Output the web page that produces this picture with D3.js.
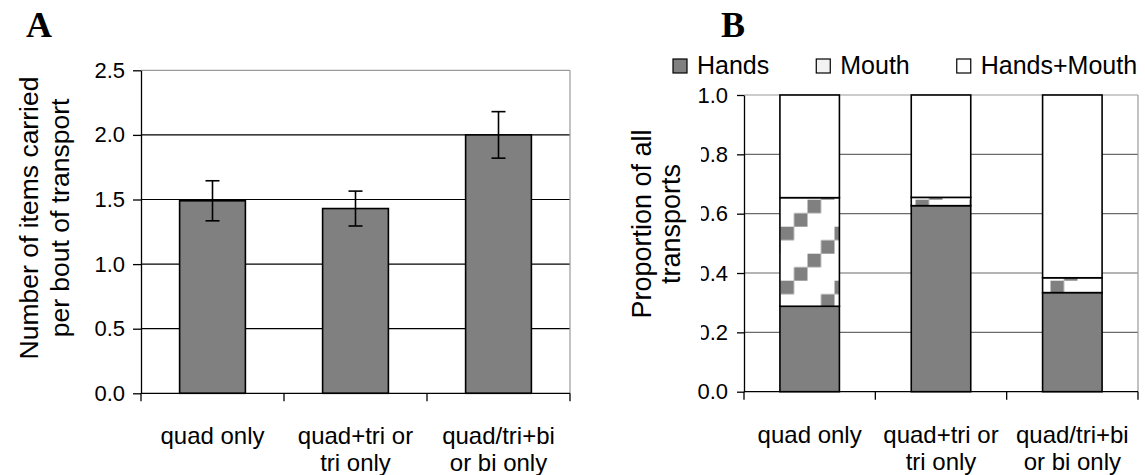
<!DOCTYPE html>
<html>
<head>
<meta charset="utf-8">
<script src="https://cdn.jsdelivr.net/npm/d3@7/dist/d3.min.js"></script>
<style>
  html, body { margin: 0; padding: 0; background: #fff; }
  svg { display: block; font-family: "Liberation Sans", Arial, sans-serif; }
</style>
</head>
<body>
<svg id="chart" width="1145" height="475"></svg>
<script>
// Locomotor categories shared by both panels
const categories = ["quad only", "quad+tri or tri only", "quad/tri+bi or bi only"];
const categoryLines = [["quad only"], ["quad+tri or", "tri only"], ["quad/tri+bi", "or bi only"]];

// Panel A: items carried per transport bout (mean ± error)
const itemsPerBout = [1.49, 1.43, 2.0];
const itemsError = [0.155, 0.135, 0.18];
const itemsTicks = [0, 0.5, 1.0, 1.5, 2.0, 2.5];

// Panel B: proportion of transports by carrying mode
const transportSeries = ["Hands", "Mouth", "Hands+Mouth"];
const handsShare = [0.288, 0.627, 0.334];
const mouthShare = [0.366, 0.028, 0.050];
const handsMouthShare = [0.346, 0.345, 0.616];
const proportionTicks = [0, 0.2, 0.4, 0.6, 0.8, 1.0];

const svg = d3.select("#chart");
const fmt = d3.format(".1f");
const BAR_GREY = "#808080";

// Checkerboard-style fill used for the "Mouth" segment
const CELL = 13.5;
const defs = svg.append("defs");
const pat = defs.append("pattern")
  .attr("id", "checker")
  .attr("patternUnits", "userSpaceOnUse")
  .attr("x", 780.5).attr("y", 226.7)
  .attr("width", CELL * 4).attr("height", CELL * 4);
pat.append("rect").attr("width", CELL * 4).attr("height", CELL * 4).attr("fill", "#fff");
[[0, 0], [3, 1], [2, 2], [1, 3]].forEach(([c, r]) => {
  pat.append("rect")
    .attr("x", c * CELL).attr("y", r * CELL)
    .attr("width", CELL).attr("height", CELL)
    .attr("fill", BAR_GREY);
});

// ---------- shared helpers ----------
function drawFrame(g, x, y, ticks, opts) {
  const [x0, x1] = x.range();
  const [yb, yt] = y.range();
  // horizontal gridlines
  g.append("g").selectAll("line")
    .data(ticks.filter(t => t !== ticks[0] && t !== ticks[ticks.length - 1]))
    .join("line")
    .attr("x1", x0).attr("x2", x1)
    .attr("y1", d => y(d)).attr("y2", d => y(d))
    .attr("stroke", opts.grid).attr("stroke-width", 1.2);
  // plot area border (top and right)
  g.append("line").attr("x1", x0).attr("x2", x1).attr("y1", yt).attr("y2", yt)
    .attr("stroke", "#9a9a9a").attr("stroke-width", 1.2);
  g.append("line").attr("x1", x1).attr("x2", x1).attr("y1", yt).attr("y2", yb)
    .attr("stroke", "#9a9a9a").attr("stroke-width", 1.2);
}

function drawAxes(g, x, y, ticks, tickSize, tickPad) {
  const [x0, x1] = x.range();
  const yb = y.range()[0];
  const yAxis = g.append("g")
    .attr("transform", `translate(${x0},0)`)
    .call(d3.axisLeft(y).tickValues(ticks).tickFormat(fmt)
      .tickSize(tickSize).tickPadding(tickPad).tickSizeOuter(0));
  yAxis.select(".domain").attr("stroke", "#000").attr("stroke-width", 1.3);
  yAxis.selectAll(".tick line").attr("stroke", "#000").attr("stroke-width", 1.3);
  yAxis.selectAll(".tick text")
    .attr("font-size", 22).attr("fill", "#000")
    .attr("font-family", "'Liberation Sans', Arial, sans-serif");

  // category axis with ticks between groups
  g.append("line").attr("x1", x0).attr("x2", x1).attr("y1", yb).attr("y2", yb)
    .attr("stroke", "#000").attr("stroke-width", 1.3);
  g.append("g").selectAll("line")
    .data(d3.range(x.domain().length + 1))
    .join("line")
    .attr("x1", i => x0 + i * x.step()).attr("x2", i => x0 + i * x.step())
    .attr("y1", yb).attr("y2", yb + 8)
    .attr("stroke", "#000").attr("stroke-width", 1.3);

  const lab = g.append("g").selectAll("text")
    .data(categories)
    .join("text")
    .attr("text-anchor", "middle")
    .attr("font-size", 24)
    .attr("fill", "#000")
    .attr("transform", d => `translate(${x(d) + x.bandwidth() / 2},${yb + 51})`);
  lab.selectAll("tspan")
    .data((d, i) => categoryLines[i])
    .join("tspan")
    .attr("x", 0)
    .attr("dy", (d, j) => j === 0 ? 0 : 27)
    .text(d => d);
}

function drawTitle(g, lines, cy, firstBaseline, lineGap, size) {
  lines.forEach((t, i) => {
    g.append("text")
      .attr("transform", `translate(${firstBaseline + i * lineGap},${cy}) rotate(-90)`)
      .attr("text-anchor", "middle")
      .attr("font-size", size)
      .attr("fill", "#000")
      .text(t);
  });
}

// ---------- Panel A ----------
const gA = svg.append("g");
const xA = d3.scaleBand().domain(categories).range([141, 570])
  .paddingInner(0.54).paddingOuter(0.27);
const yA = d3.scaleLinear().domain([0, 2.5]).range([393.3, 70.3]);

drawFrame(gA, xA, yA, itemsTicks, { grid: "#000" });

gA.append("g").selectAll("rect")
  .data(categories)
  .join("rect")
  .attr("x", d => xA(d))
  .attr("y", (d, i) => yA(itemsPerBout[i]))
  .attr("width", xA.bandwidth())
  .attr("height", (d, i) => yA(0) - yA(itemsPerBout[i]))
  .attr("fill", BAR_GREY)
  .attr("stroke", "#000").attr("stroke-width", 1.6);

// error bars
const eb = gA.append("g").attr("stroke", "#000").attr("stroke-width", 1.6);
categories.forEach((c, i) => {
  const cx = xA(c) + xA.bandwidth() / 2;
  const hi = yA(itemsPerBout[i] + itemsError[i]);
  const lo = yA(itemsPerBout[i] - itemsError[i]);
  eb.append("line").attr("x1", cx).attr("x2", cx).attr("y1", hi).attr("y2", lo);
  eb.append("line").attr("x1", cx - 7).attr("x2", cx + 7).attr("y1", hi).attr("y2", hi);
  eb.append("line").attr("x1", cx - 7).attr("x2", cx + 7).attr("y1", lo).attr("y2", lo);
});

drawAxes(gA, xA, yA, itemsTicks, 8, 8);
drawTitle(gA, ["Number of items carried", "per bout of transport"], 218, 38, 31, 26.5);

svg.append("text").attr("x", 26).attr("y", 37)
  .attr("font-family", "'Liberation Serif', 'Times New Roman', serif")
  .attr("font-weight", "bold").attr("font-size", 36).text("A");

// ---------- Panel B ----------
const gB = svg.append("g");
const xB = d3.scaleBand().domain(categories).range([744, 1138])
  .paddingInner(0.547).paddingOuter(0.2735);
const yB = d3.scaleLinear().domain([0, 1]).range([391.7, 95]);

drawFrame(gB, xB, yB, proportionTicks, { grid: "#6a6a6a" });

const rows = categories.map((c, i) => ({
  cat: c,
  "Hands": handsShare[i],
  "Mouth": mouthShare[i],
  "Hands+Mouth": handsMouthShare[i]
}));
const stacked = d3.stack().keys(transportSeries)(rows);
const fills = { "Hands": BAR_GREY, "Mouth": "url(#checker)", "Hands+Mouth": "#fff" };

gB.append("g").selectAll("g")
  .data(stacked)
  .join("g")
  .attr("fill", s => fills[s.key])
  .selectAll("rect")
  .data(s => s)
  .join("rect")
  .attr("x", d => xB(d.data.cat))
  .attr("y", d => yB(d[1]))
  .attr("width", xB.bandwidth())
  .attr("height", d => yB(d[0]) - yB(d[1]))
  .attr("stroke", "#000").attr("stroke-width", 1.6);

drawAxes(gB, xB, yB, proportionTicks, 7, 9);

// title box sits over the left part of the tick labels
gB.append("rect").attr("x", 622).attr("y", 132).attr("width", 79).attr("height", 222)
  .attr("fill", "#fff");
drawTitle(gB, ["Proportion of all", "transports"], 224, 651, 29, 27);

// legend
const legendSwatch = { "Hands": BAR_GREY, "Mouth": "#f2f2f2", "Hands+Mouth": "#fff" };
const lg = svg.append("g");
let lx = 673;
transportSeries.forEach(k => {
  lg.append("rect").attr("x", lx).attr("y", 59).attr("width", 14).attr("height", 14)
    .attr("fill", legendSwatch[k]).attr("stroke", "#000").attr("stroke-width", 1.2);
  const t = lg.append("text").attr("x", lx + 24).attr("y", 74)
    .attr("font-size", 25).attr("fill", "#000").text(k);
  lx += 24 + t.node().getComputedTextLength() + 47;
});

svg.append("text").attr("x", 721).attr("y", 37)
  .attr("font-family", "'Liberation Serif', 'Times New Roman', serif")
  .attr("font-weight", "bold").attr("font-size", 36).text("B");
</script>
</body>
</html>
